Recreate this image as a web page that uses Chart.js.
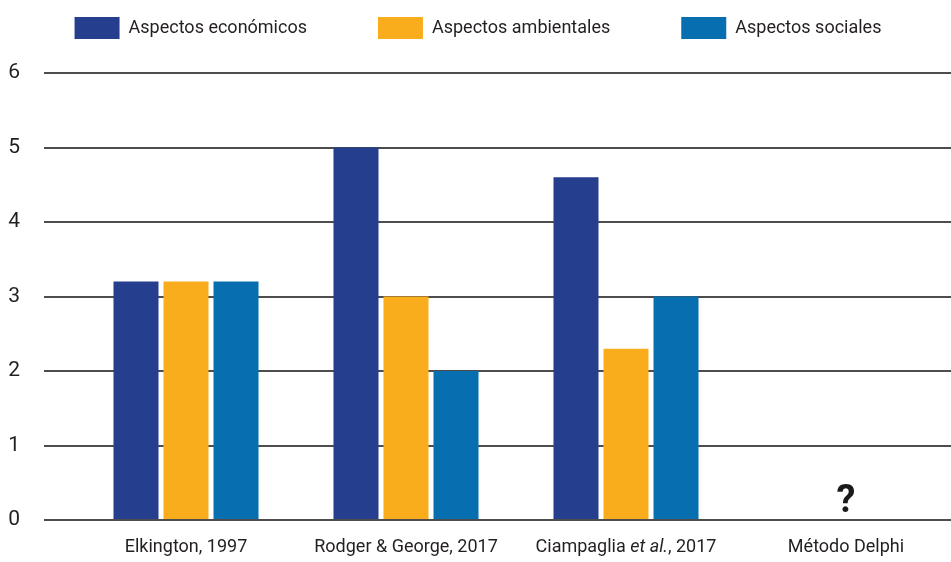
<!DOCTYPE html>
<html>
<head>
<meta charset="utf-8">
<script src="https://cdn.jsdelivr.net/npm/chart.js@4"></script>
<style>
  html, body { margin: 0; padding: 0; background: #fff; overflow: hidden; }
  #wrap { width: 956px; height: 562px; }
</style>
</head>
<body>
<div id="wrap"><canvas id="chart" width="956" height="562"></canvas></div>
<script>
const categories = ['Elkington, 1997', 'Rodger & George, 2017', 'Ciampaglia et al., 2017', 'Método Delphi'];
const economicos = [3.2, 5, 4.6, null];
const ambientales = [3.2, 3, 2.3, null];
const sociales = [3.2, 2, 3, null];
const yTicks = [0, 1, 2, 3, 4, 5, 6];
const unknownMark = { index: 3, text: '?' };
// label drawn in pieces so "et al." can be italic
const richLabel = { index: 2, parts: [['Ciampaglia ', ''], ['et al.', 'italic '], [', 2017', '']] };

const FONT = "Roboto, 'Liberation Sans', sans-serif";
const TEXT = '#231f20';
const X_PAD = 17;

const extraText = {
  id: 'extraText',
  afterDraw(chart) {
    const { ctx, scales: { x, y } } = chart;
    ctx.save();
    ctx.fillStyle = '#1a1a1a';
    ctx.textAlign = 'center';
    ctx.textBaseline = 'alphabetic';
    ctx.font = `bold 38px ${FONT}`;
    ctx.fillText(unknownMark.text, x.getPixelForValue(unknownMark.index), y.getPixelForValue(0) - 8);

    ctx.fillStyle = TEXT;
    ctx.textAlign = 'left';
    ctx.textBaseline = 'middle';
    const widths = richLabel.parts.map(([txt, style]) => {
      ctx.font = `${style}18px ${FONT}`;
      return ctx.measureText(txt).width;
    });
    let cx = x.getPixelForValue(richLabel.index) - widths.reduce((a, b) => a + b, 0) / 2;
    const cy = x.top + X_PAD + 18 * 1.2 / 2;
    richLabel.parts.forEach(([txt, style], i) => {
      ctx.font = `${style}18px ${FONT}`;
      ctx.fillText(txt, cx, cy);
      cx += widths[i];
    });
    ctx.restore();
  },
};

new Chart(document.getElementById('chart'), {
  type: 'bar',
  data: {
    labels: categories,
    datasets: [
      { label: 'Aspectos económicos', data: economicos, backgroundColor: '#253e8d' },
      { label: 'Aspectos ambientales', data: ambientales, backgroundColor: '#f9ad1c' },
      { label: 'Aspectos sociales', data: sociales, backgroundColor: '#076eaf' },
    ],
  },
  options: {
    responsive: false,
    animation: false,
    categoryPercentage: 0.682,
    barPercentage: 0.9,
    layout: { padding: { top: -54, bottom: 0, left: 0, right: 0 } },
    plugins: {
      legend: {
        position: 'top',
        labels: {
          boxWidth: 45,
          boxHeight: 22,
          padding: 71,
          color: TEXT,
          font: { family: FONT, size: 18 },
        },
      },
      title: { display: true, text: '', weight: 500, padding: 0, font: { size: 20, lineHeight: 1.2 } },
      tooltip: { enabled: false },
    },
    scales: {
      x: {
        afterFit: scale => { scale.height = 42; },
        grid: { display: false, drawTicks: false },
        border: { display: false },
        ticks: {
          color: c => (c.index === richLabel.index ? 'rgba(0,0,0,0)' : TEXT),
          padding: X_PAD,
          autoSkip: false,
          maxRotation: 0,
          font: { family: FONT, size: 18 },
        },
      },
      y: {
        min: 0,
        max: 6,
        afterFit: scale => { scale.width = 76; },
        afterBuildTicks: scale => { scale.ticks = yTicks.map(value => ({ value })); },
        border: { display: false },
        grid: { color: '#4d4d4d', lineWidth: 2, tickLength: 32 },
        ticks: { color: TEXT, padding: 24, font: { family: FONT, size: 21 } },
      },
    },
  },
  plugins: [extraText],
});
</script>
</body>
</html>
